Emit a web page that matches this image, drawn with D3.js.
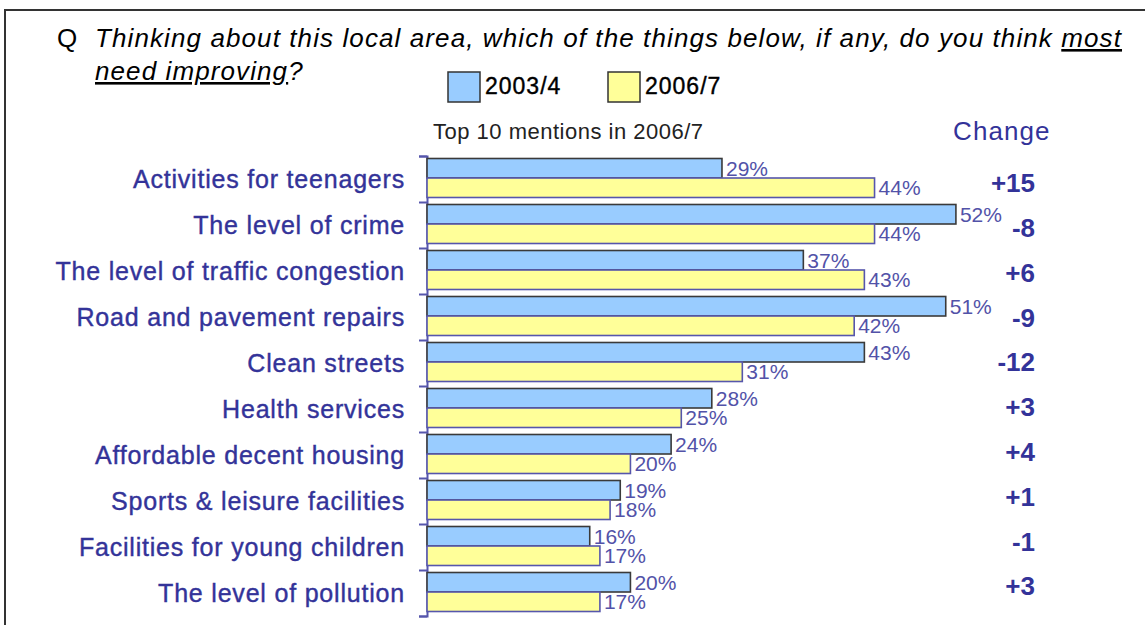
<html>
    <head>
        <title>Local area - things that most need improving</title>
        <script src="https://d3js.org/d3.v7.min.js"></script>
        <style>
            body { margin: 0; background-color: white; }
            text { font-family: Arial, "Liberation Sans", sans-serif; }
        </style>
    </head>
    <body>
        <div id="chart"></div>
    </body>
    <script>
        // data
        var categories = [
            "Activities for teenagers",
            "The level of crime",
            "The level of traffic congestion",
            "Road and pavement repairs",
            "Clean streets",
            "Health services",
            "Affordable decent housing",
            "Sports & leisure facilities",
            "Facilities for young children",
            "The level of pollution"
        ];
        var seriesNames = ["2003/4", "2006/7"];
        var values2003 = [29, 52, 37, 51, 43, 28, 24, 19, 16, 20];
        var values2006 = [44, 44, 43, 42, 31, 25, 20, 18, 17, 17];
        var changeLabels = ["+15", "-8", "+6", "-9", "-12", "+3", "+4", "+1", "-1", "+3"];

        var seriesColors = {"2003/4": "#99ccff", "2006/7": "#ffff99"};
        var seriesStroke = {"2003/4": "#3a3a3a", "2006/7": "#5656ac"};
        var labelBlue = "#333399";

        var width = 1145, height = 625;

        var svg = d3.select("#chart")
            .append("svg")
            .attr("width", width)
            .attr("height", height);

        // outer frame (only top and left are visible)
        svg.append("path")
            .attr("d", "M5," + height + "V10H" + width)
            .attr("fill", "none")
            .attr("stroke", "#333")
            .attr("stroke-width", 2);

        // title
        var title = svg.append("g");
        title.append("text")
            .attr("x", 57).attr("y", 47)
            .attr("font-size", "26px")
            .attr("fill", "#000")
            .text("Q");
        var line1 = title.append("text")
            .attr("x", 95).attr("y", 47)
            .attr("font-size", "26px")
            .attr("font-style", "italic")
            .attr("letter-spacing", "1.1px")
            .attr("fill", "#000");
        line1.append("tspan").text("Thinking about this local area, which of the things below, if any, do you think ");
        line1.append("tspan").attr("text-decoration", "underline").text("most");
        var line2 = title.append("text")
            .attr("x", 95).attr("y", 80)
            .attr("font-size", "26px")
            .attr("font-style", "italic")
            .attr("letter-spacing", "1.1px")
            .attr("fill", "#000");
        line2.append("tspan").attr("text-decoration", "underline").text("need improving");
        line2.append("tspan").text("?");

        // legend
        var legendX = d3.scalePoint().domain(seriesNames).range([448, 608]);
        var legend = svg.selectAll(".legend")
            .data(seriesNames)
            .enter()
            .append("g")
            .attr("class", "legend")
            .attr("transform", function(d) { return "translate(" + legendX(d) + ",72)"; });
        legend.append("rect")
            .attr("width", 32).attr("height", 30)
            .attr("fill", function(d) { return seriesColors[d]; })
            .attr("stroke", "#333")
            .attr("stroke-width", 1.5);
        legend.append("text")
            .attr("x", 37).attr("y", 22)
            .attr("font-size", "23px")
            .attr("letter-spacing", "1px")
            .attr("fill", "#000")
            .attr("stroke", "#000")
            .attr("stroke-width", 0.4)
            .text(function(d) { return d; });

        svg.append("text")
            .attr("x", 433).attr("y", 139)
            .attr("font-size", "22px")
            .attr("letter-spacing", "0.5px")
            .attr("fill", "#222")
            .text("Top 10 mentions in 2006/7");

        svg.append("text")
            .attr("x", 953).attr("y", 140)
            .attr("font-size", "26px")
            .attr("letter-spacing", "1.1px")
            .attr("fill", labelBlue)
            .text("Change");

        // scales
        var x = d3.scaleLinear().domain([0, 70]).range([427, 1139]);
        var y = d3.scaleBand().domain(categories).range([156, 616]);
        var ySub = d3.scaleBand().domain(seriesNames).range([2.5, 41.5]);
        var yIdx = d3.scaleLinear().domain([0, categories.length]).range([156, 616]);
        var yChange = d3.scalePoint().domain(categories).range([183, 586]);

        // axis with ticks on band boundaries
        var axis = svg.append("g")
            .attr("transform", "translate(" + x(0) + ",0)")
            .call(d3.axisLeft(yIdx)
                .tickValues(d3.range(categories.length + 1))
                .tickSize(8)
                .tickFormat(""));
        axis.selectAll("path, line")
            .attr("stroke", "#5656ac")
            .attr("stroke-width", 2);

        // category labels
        svg.selectAll(".cat")
            .data(categories)
            .enter()
            .append("text")
            .attr("class", "cat")
            .attr("x", 405)
            .attr("y", function(d) { return y(d) + y.bandwidth() / 2; })
            .attr("dy", "0.36em")
            .attr("text-anchor", "end")
            .attr("font-size", "25px")
            .attr("letter-spacing", "0.8px")
            .attr("fill", labelBlue)
            .attr("stroke", labelBlue)
            .attr("stroke-width", 0.4)
            .text(function(d) { return d; });

        function drawSeries(name, values) {
            var rows = categories.map(function(c, i) { return {cat: c, value: values[i]}; });
            svg.append("g")
                .selectAll("rect")
                .data(rows)
                .enter()
                .append("rect")
                .attr("x", x(0))
                .attr("y", function(d) { return y(d.cat) + ySub(name); })
                .attr("width", function(d) { return x(d.value) - x(0); })
                .attr("height", ySub.bandwidth())
                .attr("fill", seriesColors[name])
                .attr("stroke", seriesStroke[name])
                .attr("stroke-width", 1.6);
            svg.append("g")
                .selectAll("text")
                .data(rows)
                .enter()
                .append("text")
                .attr("x", function(d) { return x(d.value) + 4; })
                .attr("y", function(d) { return y(d.cat) + ySub(name) + ySub.bandwidth() / 2; })
                .attr("dy", "0.36em")
                .attr("font-size", "21px")
                .attr("fill", "#5252a8")
                .text(function(d) { return d.value + "%"; });
        }
        // blue first so that the yellow bars sit on top of its labels
        drawSeries("2003/4", values2003);
        drawSeries("2006/7", values2006);

        // change column
        svg.selectAll(".chg")
            .data(categories)
            .enter()
            .append("text")
            .attr("class", "chg")
            .attr("x", 1035)
            .attr("y", function(d) { return yChange(d); })
            .attr("dy", "0.36em")
            .attr("text-anchor", "end")
            .attr("font-size", "26px")
            .attr("font-weight", "bold")
            .attr("fill", labelBlue)
            .text(function(d, i) { return changeLabels[i]; });
    </script>
</html>
